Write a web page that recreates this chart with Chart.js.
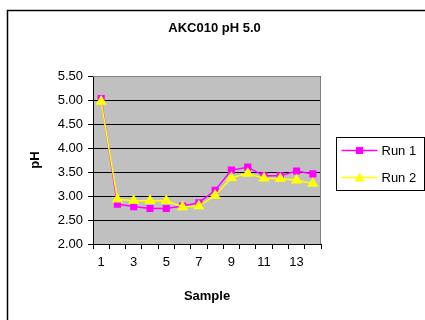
<!DOCTYPE html>
<html lang="en">
<head>
  <meta charset="UTF-8">
  <title>AKC010 pH 5.0</title>
  <script src="https://cdn.jsdelivr.net/npm/chart.js"></script>
  <style>
    html, body { margin: 0; padding: 0; background: #fff; }
    #wrap { width: 425px; height: 320px; }
  </style>
</head>
<body>
  <div id="wrap"><canvas id="phChart" width="425" height="320"></canvas></div>
  <script>
    const samples = ['1', '2', '3', '4', '5', '6', '7', '8', '9', '10', '11', '12', '13', '14'];
    const run1 = [5.03, 2.83, 2.78, 2.74, 2.74, 2.79, 2.86, 3.12, 3.54, 3.60, 3.42, 3.42, 3.52, 3.46];
    const run2 = [4.97, 2.93, 2.90, 2.90, 2.90, 2.77, 2.79, 3.01, 3.38, 3.47, 3.37, 3.36, 3.33, 3.26];
    const yMin = 2.0, yMax = 5.5, yStep = 0.5;
    const chartTitle = 'AKC010 pH 5.0';

    const font = 'Liberation Sans, Arial, sans-serif';

    // grey plot area, outer frame, plot border and the title centred on the whole frame
    const frame = {
      id: 'frame',
      beforeDraw(chart) {
        const {ctx, chartArea: a} = chart;
        ctx.save();
        ctx.fillStyle = '#c0c0c0';
        ctx.fillRect(a.left, a.top, a.right - a.left, a.bottom - a.top);
        ctx.strokeStyle = '#000';
        ctx.lineWidth = 1.5;
        ctx.strokeRect(7.5, 10.5, 600, 600);
        ctx.fillStyle = '#000';
        ctx.font = 'bold 13px ' + font;
        ctx.textAlign = 'center';
        ctx.textBaseline = 'middle';
        ctx.fillText(chartTitle, chart.width / 2 + 2, 28);
        ctx.restore();
      },
      afterDatasetsDraw(chart) {
        const {ctx, chartArea: a} = chart;
        ctx.save();
        ctx.strokeStyle = '#808080';
        ctx.lineWidth = 1;
        ctx.beginPath();
        ctx.moveTo(a.left, a.top + 0.5);
        ctx.lineTo(a.right - 0.5, a.top + 0.5);
        ctx.lineTo(a.right - 0.5, a.bottom);
        ctx.stroke();
        ctx.restore();
      }
    };

    // boxed legend to the right of the plot
    const boxLegend = {
      id: 'boxLegend',
      afterDraw(chart) {
        const {ctx, chartArea: a} = chart;
        const x0 = a.right + 15.5, y0 = 137.5, w = 88, h = 53;
        ctx.save();
        ctx.fillStyle = '#fff';
        ctx.fillRect(x0, y0, w, h);
        ctx.strokeStyle = '#000';
        ctx.lineWidth = 1;
        ctx.strokeRect(x0, y0, w, h);
        chart.data.datasets.forEach((ds, i) => {
          const y = y0 + 13 + i * 27;
          ctx.strokeStyle = ds.borderColor;
          ctx.lineWidth = 1.5;
          ctx.beginPath();
          ctx.moveTo(x0 + 5, y);
          ctx.lineTo(x0 + 41, y);
          ctx.stroke();
          ctx.fillStyle = ds.pointBackgroundColor;
          const cx = x0 + 23;
          if (ds.pointStyle === 'rect') {
            ctx.fillRect(cx - 3.5, y - 3.5, 7, 7);
          } else {
            ctx.beginPath();
            ctx.moveTo(cx, y - 5);
            ctx.lineTo(cx + 5, y + 4);
            ctx.lineTo(cx - 5, y + 4);
            ctx.closePath();
            ctx.fill();
          }
          ctx.fillStyle = '#000';
          ctx.font = '13px ' + font;
          ctx.textBaseline = 'middle';
          ctx.fillText(ds.label, x0 + 45, y + 1);
        });
        ctx.restore();
      }
    };

    new Chart(document.getElementById('phChart'), {
      type: 'line',
      data: {
        labels: samples,
        datasets: [
          {
            label: 'Run 1',
            data: run1,
            borderColor: '#ff00ff',
            backgroundColor: '#ff00ff',
            pointBackgroundColor: '#ff00ff',
            pointBorderColor: '#ff00ff',
            pointStyle: 'rect',
            pointRadius: 4,
            borderWidth: 1.5,
            tension: 0,
            order: 2
          },
          {
            label: 'Run 2',
            data: run2,
            borderColor: '#ffff00',
            backgroundColor: '#ffff00',
            pointBackgroundColor: '#ffff00',
            pointBorderColor: '#ffff00',
            pointStyle: 'triangle',
            pointRadius: 5,
            borderWidth: 1.5,
            tension: 0,
            order: 1
          }
        ]
      },
      options: {
        responsive: false,
        animation: false,
        devicePixelRatio: 1,
        layout: { padding: { left: 10, right: 104, top: 76, bottom: 10 } },
        plugins: {
          legend: { display: false },
          tooltip: { enabled: false },
          title: { display: false }
        },
        scales: {
          x: {
            type: 'category',
            offset: true,
            afterFit(s) { s.height = 66; },
            grid: { offset: true, drawOnChartArea: false, drawTicks: true, tickLength: 5, color: '#000' },
            border: { color: '#000', width: 1 },
            ticks: {
              autoSkip: false,
              maxRotation: 0,
              color: '#000',
              padding: 6,
              font: { family: font, size: 13 },
              callback: (v, i) => (i % 2 === 0 ? samples[i] : '')
            },
            title: {
              display: true,
              text: 'Sample',
              color: '#000',
              font: { family: font, size: 13, weight: 'bold' },
              padding: { top: 0, bottom: 6 }
            }
          },
          y: {
            min: yMin,
            max: yMax,
            afterFit(s) { s.width = 83; },
            grid: { color: '#000', tickLength: 5 },
            border: { color: '#000', width: 1 },
            ticks: {
              stepSize: yStep,
              color: '#000',
              padding: 5,
              font: { family: font, size: 13 },
              callback: v => Number(v).toFixed(2)
            },
            title: {
              display: true,
              text: 'pH',
              color: '#000',
              font: { family: font, size: 13, weight: 'bold' },
              padding: { top: 18, bottom: 0 }
            }
          }
        }
      },
      plugins: [frame, boxLegend]
    });
  </script>
</body>
</html>
